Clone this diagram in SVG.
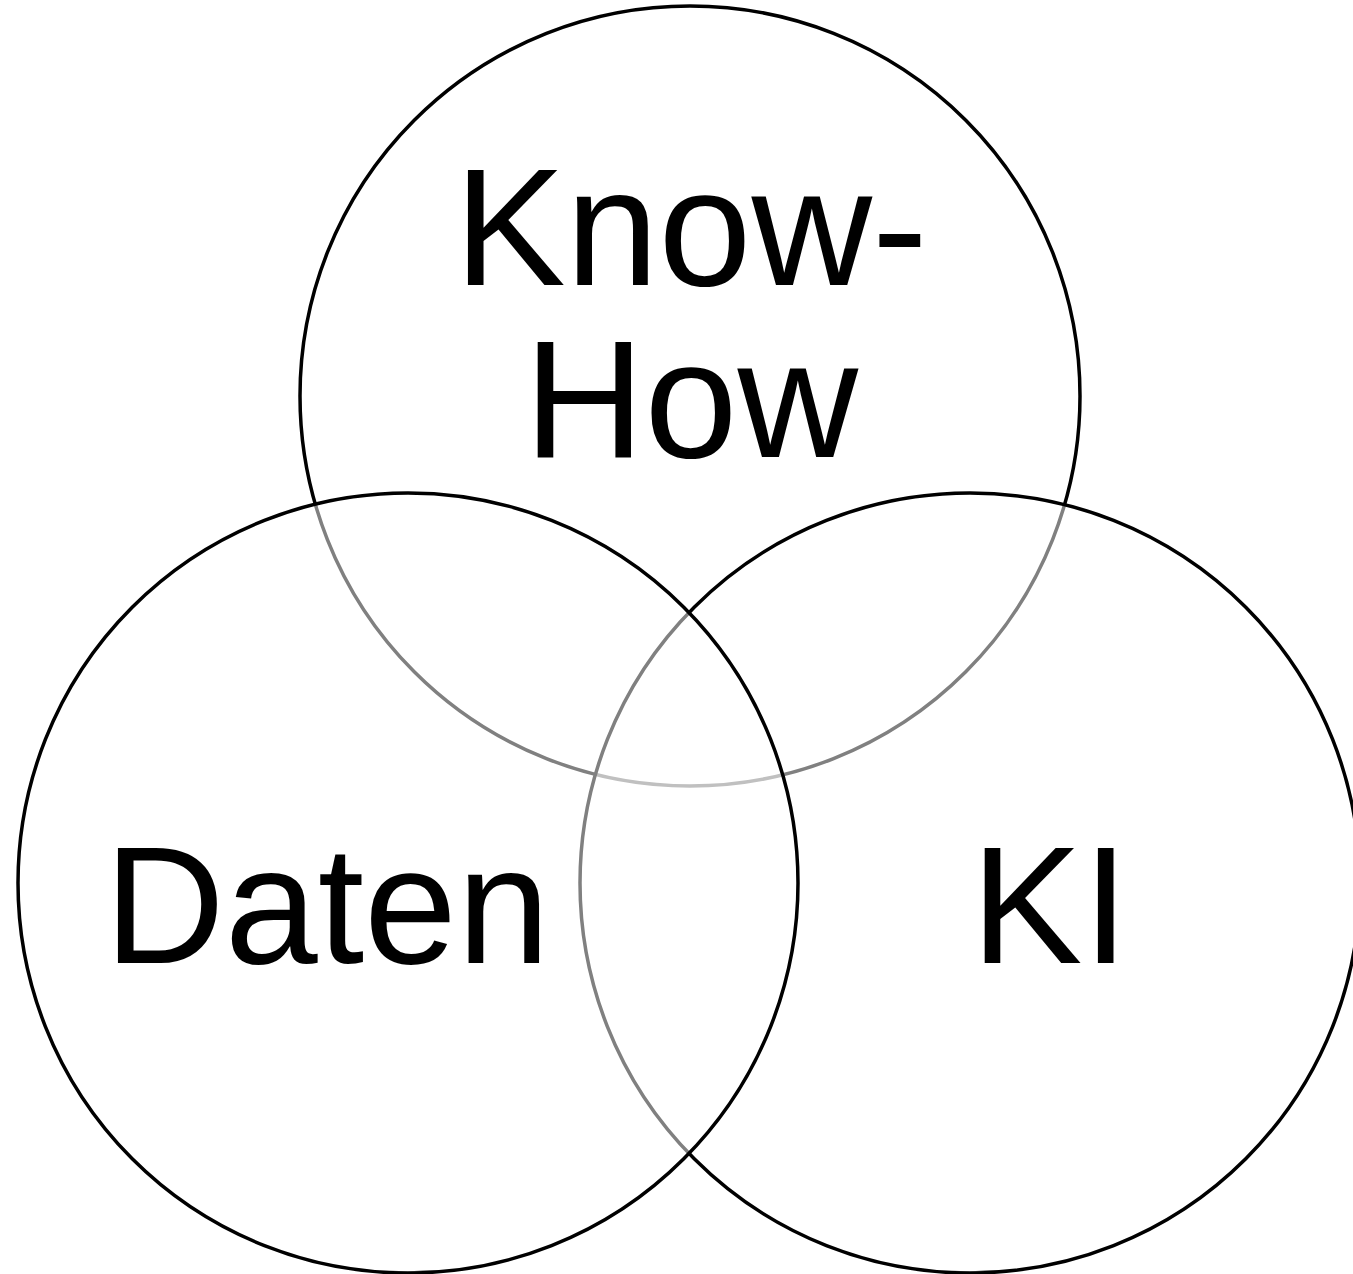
<svg xmlns="http://www.w3.org/2000/svg" width="1353" height="1274" viewBox="0 0 1353 1274">
<style>
.c{fill:#fff;fill-opacity:0.5;stroke:#000;stroke-width:3.5}
.t{font-family:"Liberation Sans",Arial,sans-serif;font-size:167px;fill:#000;text-anchor:middle}
</style>
<rect width="1353" height="1274" fill="#fff"/>
<g id="knowhow">
<circle class="c" cx="690" cy="396" r="390"/>
<text class="t" x="691" y="285">Know-</text>
<text class="t" x="691" y="457">How</text>
</g>
<g id="ki">
<circle class="c" cx="970" cy="883" r="390"/>
<text class="t" x="1050" y="963">KI</text>
</g>
<g id="daten">
<circle class="c" cx="408" cy="883" r="390"/>
<text class="t" x="327" y="963">Daten</text>
</g>
<g id="connectors"/>
</svg>
